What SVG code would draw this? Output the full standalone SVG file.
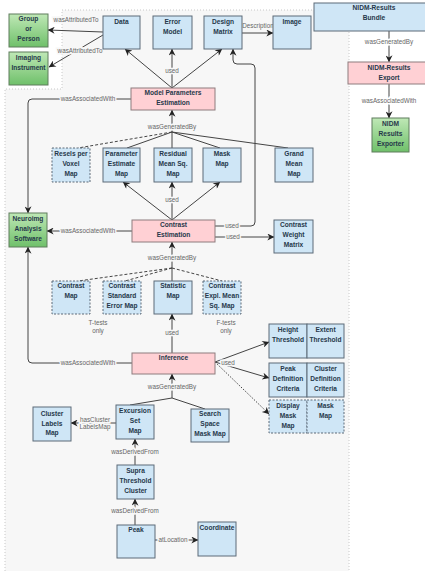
<svg xmlns="http://www.w3.org/2000/svg" width="425" height="571" viewBox="0 0 425 571">
<defs>
<marker id="ah" viewBox="0 0 10 10" refX="9.5" refY="5" markerWidth="8" markerHeight="7" markerUnits="userSpaceOnUse" orient="auto"><path d="M0,0 L10,5 L0,10 L3,5 z" fill="#222"/></marker>
<linearGradient id="gg" x1="0" y1="0" x2="0" y2="1"><stop offset="0" stop-color="#bfe8b6"/><stop offset="1" stop-color="#6fc06a"/></linearGradient>
<style>
.b{fill:#cfe6f6;stroke:#5d6b78;stroke-width:1}
.bd{fill:#cfe6f6;stroke:#5d6b78;stroke-width:1;stroke-dasharray:2,1.5}
.p{fill:#ffd0d4;stroke:#8e7c7e;stroke-width:1}
.g{fill:url(#gg);stroke:#5f7d5c;stroke-width:1}
.t{font-family:"Liberation Sans",Arial,sans-serif;font-weight:bold;font-size:6.6px;fill:#26384a;text-anchor:middle}
.e{fill:none;stroke:#444;stroke-width:1}
.ed{fill:none;stroke:#444;stroke-width:1;stroke-dasharray:3,2}
.l{font-family:"Liberation Sans",Arial,sans-serif;font-size:6.3px;fill:#666;text-anchor:middle;stroke:#f7f7f7;stroke-width:3;paint-order:stroke}
.lw{font-family:"Liberation Sans",Arial,sans-serif;font-size:6.3px;fill:#666;text-anchor:middle;stroke:#fff;stroke-width:3;paint-order:stroke}
</style>
</defs>
<rect width="425" height="571" fill="#fff"/>
<path d="M62,10 H349 V575 H5 V89 H62 Z" fill="#f7f7f7" stroke="#c8c8c8" stroke-width="1" stroke-dasharray="1,2"/>

<g id="connectors">
<path class="e" d="M103,32 L48,30" marker-end="url(#ah)"/>
<path class="e" d="M103,35 L49,67" marker-end="url(#ah)"/>
<path class="e" d="M242,33 H273" marker-end="url(#ah)"/>
<path class="e" d="M172,88 L125,49" marker-end="url(#ah)"/>
<path class="e" d="M172,88 V49" marker-end="url(#ah)"/>
<path class="e" d="M172,88 L222,49" marker-end="url(#ah)"/>
<path class="e" d="M131,99 H32 Q28,99 28,103 V213" marker-end="url(#ah)"/>
<path class="e" d="M172,132 V110" marker-end="url(#ah)"/>
<path class="ed" d="M172,132 L78,148"/>
<path class="e" d="M172,132 L127,148"/>
<path class="e" d="M172,132 V148"/>
<path class="e" d="M172,132 L220,148"/>
<path class="e" d="M172,132 L288,148"/>
<path class="e" d="M172,220 L123,182" marker-end="url(#ah)"/>
<path class="e" d="M172,220 V182" marker-end="url(#ah)"/>
<path class="e" d="M172,220 L220,182" marker-end="url(#ah)"/>
<path class="e" d="M132,231 H47" marker-end="url(#ah)"/>
<path class="e" d="M215,226 H251 Q255,226 255,222 V68 Q255,64 251,64 H237 Q233,64 233,60 V49" marker-end="url(#ah)"/>
<path class="e" d="M215,237 H274" marker-end="url(#ah)"/>
<path class="e" d="M172,268 V242" marker-end="url(#ah)"/>
<path class="ed" d="M172,268 L78,281"/>
<path class="ed" d="M172,268 L125,281"/>
<path class="e" d="M172,268 V281"/>
<path class="ed" d="M172,268 L222,281"/>
<path class="e" d="M172,353 V314" marker-end="url(#ah)"/>
<path class="e" d="M132,363 H32 Q28,363 28,359 V247" marker-end="url(#ah)"/>
<path class="e" d="M215,362 L269,342" marker-end="url(#ah)"/>
<path class="e" d="M215,362 L269,378" marker-end="url(#ah)"/>
<path class="e" d="M215,362 L269,414" stroke-dasharray="1.5,1.5" marker-end="url(#ah)"/>
<path class="e" d="M172,398 V374" marker-end="url(#ah)"/>
<path class="e" d="M172,398 L130,405"/>
<path class="e" d="M172,398 L205,409"/>
<path class="e" d="M116,423 H71" marker-end="url(#ah)"/>
<path class="e" d="M135,465 V439" marker-end="url(#ah)"/>
<path class="e" d="M135,525 V499" marker-end="url(#ah)"/>
<path class="e" d="M155,540 H198" marker-end="url(#ah)"/>
<path class="e" d="M389,31 V62" marker-end="url(#ah)"/>
<path class="e" d="M389,84 V118" marker-end="url(#ah)"/>

<text class="l" x="76" y="22">wasAttributedTo</text>
<text class="l" x="80" y="53">wasAttributedTo</text>
<text class="l" x="258" y="28">Description</text>
<text class="l" x="172" y="73">used</text>
<text class="l" x="88" y="101">wasAssociatedWith</text>
<text class="l" x="172" y="129">wasGeneratedBy</text>
<text class="l" x="172" y="202">used</text>
<text class="l" x="88" y="233">wasAssociatedWith</text>
<text class="l" x="232" y="228">used</text>
<text class="l" x="233" y="239">used</text>
<text class="l" x="172" y="260">wasGeneratedBy</text>
<text class="l" x="98" y="325">T-tests</text>
<text class="l" x="98" y="333">only</text>
<text class="l" x="226" y="325">F-tests</text>
<text class="l" x="226" y="333">only</text>
<text class="l" x="172" y="335">used</text>
<text class="l" x="88" y="365">wasAssociatedWith</text>
<text class="l" x="228" y="365">used</text>
<text class="l" x="172" y="389">wasGeneratedBy</text>
<text class="l" x="95" y="422">hasCluster</text>
<text class="l" x="95" y="429">LabelsMap</text>
<text class="l" x="135" y="454">wasDerivedFrom</text>
<text class="l" x="135" y="513">wasDerivedFrom</text>
<text class="l" x="173" y="542">atLocation</text>
<text class="lw" x="389" y="44">wasGeneratedBy</text>
<text class="lw" x="389" y="103">wasAssociatedWith</text>
</g>

<g id="group-or-person"><rect class="g" x="9" y="14" width="39" height="33"/><text class="t" x="28.5" y="20.5">Group</text><text class="t" x="28.5" y="30.5">or</text><text class="t" x="28.5" y="40.5">Person</text></g>
<g id="imaging-instrument"><rect class="g" x="9" y="52" width="39" height="33"/><text class="t" x="28.5" y="60">Imaging</text><text class="t" x="28.5" y="69.5">Instrument</text></g>
<g id="data"><rect class="b" x="103" y="16" width="37" height="33"/><text class="t" x="121.5" y="24">Data</text></g>
<g id="error-model"><rect class="b" x="153" y="16" width="39" height="33"/><text class="t" x="172.5" y="24">Error</text><text class="t" x="172.5" y="34">Model</text></g>
<g id="design-matrix"><rect class="b" x="204" y="16" width="38" height="33"/><text class="t" x="223" y="24">Design</text><text class="t" x="223" y="34">Matrix</text></g>
<g id="image"><rect class="b" x="273" y="16" width="38" height="33"/><text class="t" x="292" y="24">Image</text></g>
<g id="nidm-results-bundle"><rect class="b" x="314" y="3" width="120" height="28"/><text class="t" x="374" y="9.5">NIDM-Results</text><text class="t" x="374" y="19.5">Bundle</text></g>
<g id="nidm-results-export"><rect class="p" x="348" y="62" width="82" height="22"/><text class="t" x="389" y="70">NIDM-Results</text><text class="t" x="389" y="80">Export</text></g>
<g id="nidm-results-exporter"><rect class="g" x="372" y="118" width="37" height="34"/><text class="t" x="390.5" y="126.2">NIDM</text><text class="t" x="390.5" y="136">Results</text><text class="t" x="390.5" y="145.7">Exporter</text></g>
<g id="model-parameters-estimation"><rect class="p" x="131" y="88" width="84" height="22"/><text class="t" x="173" y="95.3">Model Parameters</text><text class="t" x="173" y="105.3">Estimation</text></g>
<g id="resels-per-voxel-map"><rect class="bd" x="52" y="148" width="38" height="34"/><text class="t" x="71" y="156.3">Resels per</text><text class="t" x="71" y="166">Voxel</text><text class="t" x="71" y="175.8">Map</text></g>
<g id="parameter-estimate-map"><rect class="b" x="103" y="148" width="37" height="34"/><text class="t" x="121.5" y="156.3">Parameter</text><text class="t" x="121.5" y="166">Estimate</text><text class="t" x="121.5" y="175.8">Map</text></g>
<g id="residual-mean-sq-map"><rect class="b" x="154" y="148" width="38" height="34"/><text class="t" x="173" y="156.3">Residual</text><text class="t" x="173" y="166">Mean Sq.</text><text class="t" x="173" y="175.8">Map</text></g>
<g id="mask-map"><rect class="b" x="203" y="148" width="38" height="34"/><text class="t" x="222" y="156.3">Mask</text><text class="t" x="222" y="166">Map</text></g>
<g id="grand-mean-map"><rect class="b" x="275" y="148" width="38" height="34"/><text class="t" x="294" y="156.3">Grand</text><text class="t" x="294" y="166">Mean</text><text class="t" x="294" y="175.8">Map</text></g>
<g id="neuroimg-analysis-software"><rect class="g" x="9" y="213" width="38" height="34"/><text class="t" x="28" y="221.3">Neuroimg</text><text class="t" x="28" y="231.3">Analysis</text><text class="t" x="28" y="241.3">Software</text></g>
<g id="contrast-estimation"><rect class="p" x="132" y="220" width="83" height="22"/><text class="t" x="173.5" y="227.3">Contrast</text><text class="t" x="173.5" y="237.3">Estimation</text></g>
<g id="contrast-weight-matrix"><rect class="b" x="274" y="220" width="39" height="33"/><text class="t" x="293.5" y="227.3">Contrast</text><text class="t" x="293.5" y="237.3">Weight</text><text class="t" x="293.5" y="247.3">Matrix</text></g>
<g id="contrast-map"><rect class="bd" x="52" y="281" width="38" height="33"/><text class="t" x="71" y="288">Contrast</text><text class="t" x="71" y="298">Map</text></g>
<g id="contrast-standard-error-map"><rect class="bd" x="103" y="281" width="38" height="33"/><text class="t" x="122" y="288">Contrast</text><text class="t" x="122" y="298">Standard</text><text class="t" x="122" y="308">Error Map</text></g>
<g id="statistic-map"><rect class="b" x="154" y="281" width="38" height="33"/><text class="t" x="173" y="288">Statistic</text><text class="t" x="173" y="298">Map</text></g>
<g id="contrast-expl-mean-sq-map"><rect class="bd" x="203" y="281" width="38" height="33"/><text class="t" x="222" y="288">Contrast</text><text class="t" x="222" y="298">Expl. Mean</text><text class="t" x="222" y="308">Sq. Map</text></g>
<g id="inference"><rect class="p" x="132" y="353" width="83" height="21"/><text class="t" x="173.5" y="359.6">Inference</text></g>
<g id="height-threshold"><rect class="b" x="269" y="324" width="38" height="34"/><text class="t" x="288" y="332.3">Height</text><text class="t" x="288" y="342.3">Threshold</text></g>
<g id="extent-threshold"><rect class="b" x="307" y="324" width="37" height="34"/><text class="t" x="325.5" y="332.3">Extent</text><text class="t" x="325.5" y="342.3">Threshold</text></g>
<g id="peak-definition-criteria"><rect class="b" x="269" y="363" width="38" height="34"/><text class="t" x="288" y="371.3">Peak</text><text class="t" x="288" y="381.3">Definition</text><text class="t" x="288" y="391.3">Criteria</text></g>
<g id="cluster-definition-criteria"><rect class="b" x="307" y="363" width="37" height="34"/><text class="t" x="325.5" y="371.3">Cluster</text><text class="t" x="325.5" y="381.3">Definition</text><text class="t" x="325.5" y="391.3">Criteria</text></g>
<g id="display-mask-map"><rect class="bd" x="269" y="400" width="38" height="33"/><text class="t" x="288" y="408">Display</text><text class="t" x="288" y="417.6">Mask</text><text class="t" x="288" y="427.6">Map</text></g>
<g id="mask-map-2"><rect class="bd" x="307" y="400" width="37" height="33"/><text class="t" x="325.5" y="408">Mask</text><text class="t" x="325.5" y="417.6">Map</text></g>
<g id="excursion-set-map"><rect class="b" x="116" y="405" width="38" height="34"/><text class="t" x="135" y="413">Excursion</text><text class="t" x="135" y="422.6">Set</text><text class="t" x="135" y="432.6">Map</text></g>
<g id="search-space-mask-map"><rect class="b" x="191" y="409" width="38" height="33"/><text class="t" x="210" y="416.3">Search</text><text class="t" x="210" y="426.3">Space</text><text class="t" x="210" y="436">Mask Map</text></g>
<g id="cluster-labels-map"><rect class="b" x="33" y="407" width="38" height="34"/><text class="t" x="52" y="415.6">Cluster</text><text class="t" x="52" y="425.6">Labels</text><text class="t" x="52" y="435.3">Map</text></g>
<g id="supra-threshold-cluster"><rect class="b" x="117" y="465" width="37" height="34"/><text class="t" x="135.5" y="473">Supra</text><text class="t" x="135.5" y="482.6">Threshold</text><text class="t" x="135.5" y="492.6">Cluster</text></g>
<g id="peak"><rect class="b" x="117" y="525" width="38" height="33"/><text class="t" x="136" y="532.3">Peak</text></g>
<g id="coordinate"><rect class="b" x="198" y="522" width="38" height="34"/><text class="t" x="217" y="530">Coordinate</text></g>
</svg>
